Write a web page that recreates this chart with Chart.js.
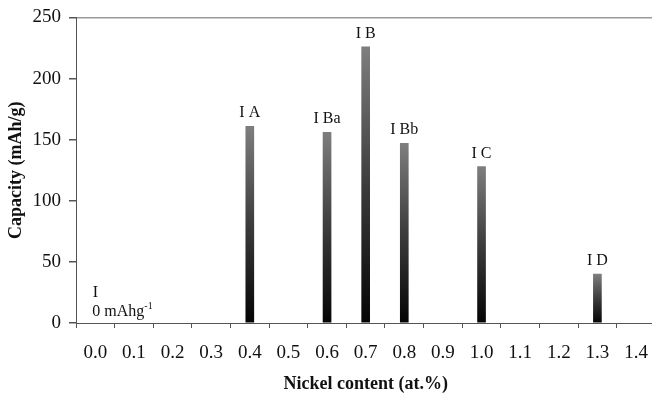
<!DOCTYPE html>
<html>
<head>
<meta charset="utf-8">
<script src="https://cdn.jsdelivr.net/npm/chart.js@4.4.1/dist/chart.umd.min.js"></script>
<style>
  html, body { margin: 0; padding: 0; background: #fff; overflow: hidden; }
  #wrap { width: 652px; height: 395px; overflow: hidden; }
</style>
</head>
<body>
<div id="wrap"><canvas id="cv" width="662" height="395"></canvas></div>
<script>
// nickel content categories (at.%)
const nickel = ['0.0', '0.1', '0.2', '0.3', '0.4', '0.5', '0.6', '0.7', '0.8', '0.9', '1.0', '1.1', '1.2', '1.3', '1.4'];
// discharge capacity, mAh/g (null = no sample)
const capacity = [0, null, null, null, 161, null, 156, 226, 147, null, 128, null, null, 40, null];
// sample names written above bars
const sampleNames = ['I', '', '', '', 'I A', '', 'I Ba', 'I B', 'I Bb', '', 'I C', '', '', 'I D', ''];
const zeroNote = '0 mAhg';
const zeroNoteSup = '-1';

const SERIF = '"Liberation Serif", "Times New Roman", serif';

function barFill(ctx) {
  const chart = ctx.chart;
  if (!ctx.raw) return 'rgba(0,0,0,0)';
  if (!chart.chartArea) return '#444';
  const y = chart.scales.y;
  const top = y.getPixelForValue(ctx.raw);
  const bot = y.getPixelForValue(0);
  const g = chart.ctx.createLinearGradient(0, top, 0, bot);
  g.addColorStop(0, '#7e7e7e');
  g.addColorStop(0.5, '#3c3c3c');
  g.addColorStop(1, '#040404');
  return g;
}

// names above bars, plus the "0 mAhg-1" note for the unloaded sample
const namePlugin = {
  id: 'names',
  afterDatasetsDraw(chart) {
    const c = chart.ctx;
    const x = chart.scales.x, y = chart.scales.y;
    c.save();
    c.fillStyle = '#111';
    c.font = '16px ' + SERIF;
    c.textAlign = 'center';
    c.textBaseline = 'alphabetic';
    capacity.forEach((v, i) => {
      if (v == null || !sampleNames[i]) return;
      const px = x.getPixelForValue(i);
      const py = y.getPixelForValue(v);
      if (v === 0) {
        c.fillText(sampleNames[i], px, py - 26);
        c.textAlign = 'left';
        const sx = px - 3;
        c.fillText(zeroNote, sx, py - 7);
        const w = c.measureText(zeroNote).width;
        c.font = '10px ' + SERIF;
        c.fillText(zeroNoteSup, sx + w, py - 14);
        c.font = '16px ' + SERIF;
        c.textAlign = 'center';
      } else {
        c.fillText(sampleNames[i], px, py - 9);
      }
    });
    c.restore();
  }
};

new Chart(document.getElementById('cv'), {
  type: 'bar',
  data: {
    labels: nickel,
    datasets: [{
      data: capacity,
      backgroundColor: barFill,
      borderWidth: 0,
      barThickness: 8,
      skipNull: true
    }]
  },
  options: {
    responsive: false,
    animation: false,
    layout: { padding: { top: 0, right: 3, left: 0, bottom: 0 } },
    plugins: { legend: { display: false }, tooltip: { enabled: false } },
    scales: {
      x: {
        offset: true,
        grid: { offset: true, drawOnChartArea: false, tickLength: 5, tickColor: '#555' },
        border: { color: '#555', width: 1 },
        ticks: { color: '#111', font: { family: SERIF, size: 19 }, padding: 14, maxRotation: 0, autoSkip: false },
        title: { display: true, text: 'Nickel content (at.%)', color: '#111',
                 font: { family: SERIF, size: 18, weight: 'bold' }, padding: { top: 6, bottom: 0 } },
        afterFit: s => { s.height = 72; }
      },
      y: {
        min: 0, max: 250,
        ticks: { stepSize: 50, color: '#111', font: { family: SERIF, size: 19, lineHeight: 1 }, padding: 8 },
        grid: {
          tickLength: 7,
          tickColor: '#555',
          color: ctx => (ctx.tick && ctx.tick.value === 250 ? '#999' : 'rgba(0,0,0,0)'),
          lineWidth: 1.5
        },
        border: { color: '#555', width: 1 },
        title: { display: true, text: 'Capacity (mAh/g)', color: '#111',
                 font: { family: SERIF, size: 18, weight: 'bold' }, padding: { top: 6, bottom: 2 } },
        afterFit: s => { s.width = 76; }
      }
    }
  },
  plugins: [namePlugin]
});
</script>
</body>
</html>
